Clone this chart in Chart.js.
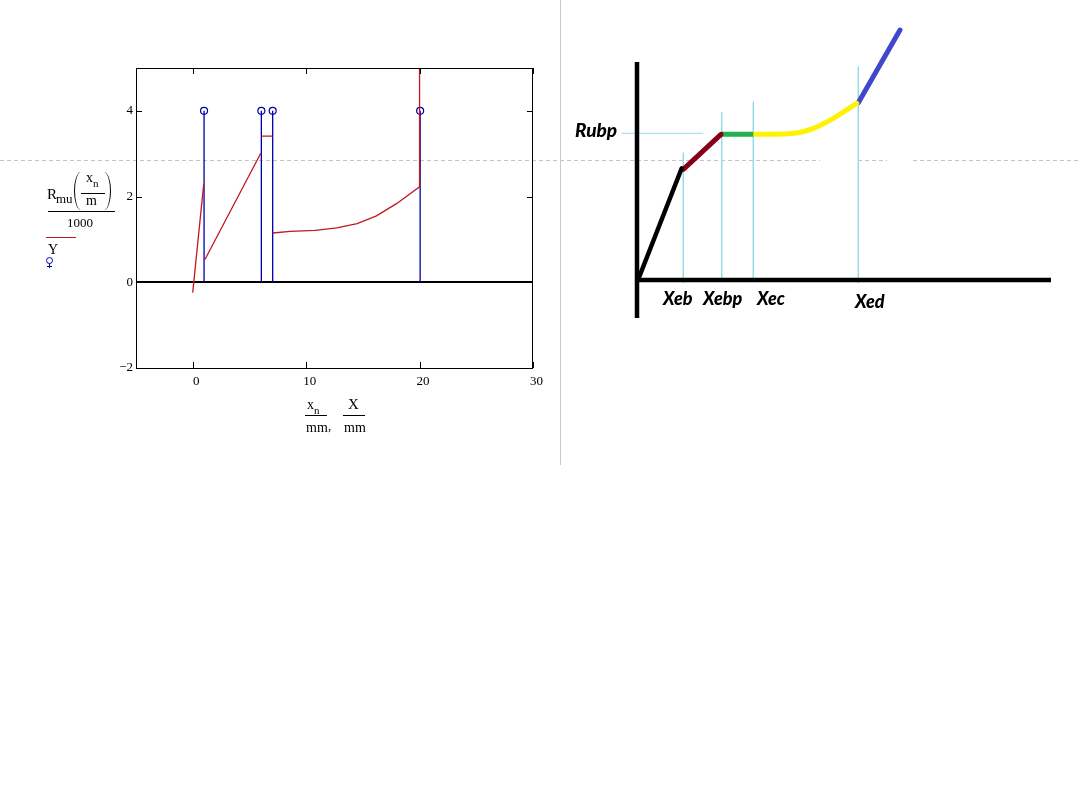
<!DOCTYPE html>
<html>
<head>
<meta charset="utf-8">
<script src="https://cdn.jsdelivr.net/npm/chart.js@4.4.1/dist/chart.umd.min.js"></script>
<style>
html, body { margin: 0; padding: 0; background: #fff; }
body { width: 1078px; height: 800px; position: relative; overflow: hidden; }
canvas { position: absolute; z-index: 1; }
#plot { left: 0; top: 0; }
#sketch { left: 560px; top: 0; }
.t { position: absolute; z-index: 2; font-family: 'Liberation Serif', serif; font-size: 13px; line-height: 13px; white-space: nowrap; color: #000; }
.bar { position: absolute; z-index: 2; height: 1px; background: #000; }
.lbl { position: absolute; z-index: 2; font-family: Lato, sans-serif; font-weight: 900; font-style: italic; font-size: 18px; line-height: 18px; white-space: nowrap; color: #000; }
.dash { position: absolute; z-index: 0; top: 160px; height: 1px; background: repeating-linear-gradient(to right, #c4c4c4 0 4px, transparent 4px 7px); }
.paren { position: absolute; z-index: 2; width: 6px; height: 38px; top: 172px; }
</style>
</head>
<body>
<!-- guide lines from the screenshot -->
<div class="dash" style="left:0;width:820px"></div>
<div class="dash" style="left:858px;width:29px"></div>
<div class="dash" style="left:913px;width:165px"></div>
<div style="position:absolute;z-index:0;left:560px;top:0;width:1px;height:465px;background:#c8c8c8"></div>

<canvas id="plot" width="560" height="470"></canvas>
<canvas id="sketch" width="518" height="340"></canvas>

<!-- legend: Rmu(xn/m)/1000 and Y -->
<span class="t" style="left:47px;top:187px;font-size:15px;line-height:15px">R</span>
<span class="t" style="left:56px;top:192px">mu</span>
<div class="paren" style="left:74px;border-left:1px solid #000;border-radius:100% 0 0 100% / 50% 0 0 50%"></div>
<span class="t" style="left:86px;top:171px;font-size:14px;line-height:14px">x</span>
<span class="t" style="left:93px;top:178px;font-size:11px;line-height:11px">n</span>
<div class="bar" style="left:81px;top:193px;width:24px"></div>
<span class="t" style="left:86px;top:194px;font-size:14px;line-height:14px">m</span>
<div class="paren" style="left:104px;border-right:1px solid #000;border-radius:0 100% 100% 0 / 0 50% 50% 0"></div>
<div class="bar" style="left:48px;top:211px;width:67px"></div>
<span class="t" style="left:67px;top:216px">1000</span>
<div class="bar" style="left:46px;top:237px;width:30px;background:#c0181e"></div>
<span class="t" style="left:48px;top:243px;font-size:14px;line-height:14px">Y</span>
<svg style="position:absolute;z-index:2;left:44px;top:256px" width="12" height="14">
  <circle cx="5.5" cy="4.5" r="3" fill="none" stroke="#0000a8" stroke-width="1"/>
  <line x1="5.5" y1="7.5" x2="5.5" y2="12" stroke="#0000a8" stroke-width="1"/>
  <line x1="3" y1="10.5" x2="8" y2="10.5" stroke="#0000a8" stroke-width="1"/>
</svg>

<!-- x axis title: xn/mm , X/mm -->
<span class="t" style="left:307px;top:398px;font-size:14px;line-height:14px">x</span>
<span class="t" style="left:314px;top:405px;font-size:11px;line-height:11px">n</span>
<div class="bar" style="left:305px;top:415px;width:22px"></div>
<span class="t" style="left:306px;top:421px;font-size:14px;line-height:14px">mm</span>
<span class="t" style="left:328px;top:419px">,</span>
<span class="t" style="left:348px;top:397px;font-size:15px;line-height:15px">X</span>
<div class="bar" style="left:343px;top:415px;width:22px"></div>
<span class="t" style="left:344px;top:421px;font-size:14px;line-height:14px">mm</span>

<!-- sketch labels -->
<span class="lbl" style="left:575px;top:120px;font-size:19px;line-height:19px">Rubp</span>
<span class="lbl" style="left:663px;top:289px">Xeb</span>
<span class="lbl" style="left:703px;top:289px">Xebp</span>
<span class="lbl" style="left:757px;top:289px">Xec</span>
<span class="lbl" style="left:855px;top:292px">Xed</span>

<script>
// ---- left plot (Mathcad export) ----
const xTicks = [0, 10, 20, 30];
const yTicks = [-2, 0, 2, 4];

// Rmu(xn/m)/1000 against xn/mm, null y = break in the curve
const rmuX = [0, 0.97, 1, 1.08, 6.0, 6, 6.05, 7.05, 7, 7.05, 8.6, 10.8, 12.7, 14.5, 16.2, 18.0, 19.95, 20.0, 20.0];
const rmuY = [-0.24, 2.29, null, 0.53, 3.01, null, 3.41, 3.41, null, 1.15, 1.19, 1.21, 1.27, 1.37, 1.55, 1.84, 2.22, 2.25, 6];

// Y against X/mm (drawn as stems)
const stemX = [1, 6.05, 7.05, 20.05];
const stemY = [4, 4, 4, 4];

// ---- right sketch, in sketch units ----
const axisVX = [0.1, 0.1], axisVY = [21.7, -3.9];
const axisHX = [0, 41.5], axisHY = [-0.1, -0.1];
const elasticX = [0.33, 4.57], elasticY = [0.23, 11.07];
const hardenX = [4.73, 8.5], hardenY = [10.97, 14.47];
const plateauX = [8.5, 11.73], plateauY = [14.47, 14.47];
const softX = [11.83, 15.73, 17.73, 19.73, 22.07];
const softY = [14.47, 14.57, 15.07, 16.07, 17.57];
const finalX = [22.23, 26.4], finalY = [17.63, 24.9];
const guideX = [4.73, 8.57, 11.73, 22.23];
const guideTop = [12.63, 16.67, 17.73, 21.23];
const guideBottom = [-0.4, 0.07, 0.07, -0.4];
const rubpX = [-1.43, 6.73], rubpY = 14.57;

const pts = (xs, ys) => xs.map((x, i) => ({x: x, y: ys[i]}));

let stemData = [];
stemX.forEach((x, i) => {
  stemData.push({x: x, y: 0}, {x: x, y: stemY[i]}, {x: x, y: null});
});

const mathcadFrame = {
  id: 'mathcadFrame',
  beforeDatasetsDraw(chart) {
    const {ctx, chartArea: a, scales} = chart;
    const y0 = Math.round(scales.y.getPixelForValue(0));
    ctx.save();
    ctx.strokeStyle = '#000';
    ctx.lineWidth = 2;
    ctx.beginPath();
    ctx.moveTo(a.left, y0);
    ctx.lineTo(a.right, y0);
    ctx.stroke();
    ctx.restore();
  },
  afterDatasetsDraw(chart) {
    const {ctx, chartArea: a, scales} = chart;
    ctx.save();
    ctx.strokeStyle = '#000';
    ctx.lineWidth = 1;
    ctx.strokeRect(a.left + 0.5, a.top + 0.5, a.right - a.left - 1, a.bottom - a.top);
    ctx.beginPath();
    xTicks.forEach(v => {
      const px = Math.round(scales.x.getPixelForValue(v)) + 0.5;
      ctx.moveTo(px, a.top); ctx.lineTo(px, a.top + 6);
      ctx.moveTo(px, a.bottom); ctx.lineTo(px, a.bottom - 6);
    });
    yTicks.forEach(v => {
      const py = Math.round(scales.y.getPixelForValue(v)) + 0.5;
      ctx.moveTo(a.left, py); ctx.lineTo(a.left + 6, py);
      ctx.moveTo(a.right, py); ctx.lineTo(a.right - 6, py);
    });
    ctx.stroke();
    ctx.restore();
  }
};

const tickFont = {family: "'Liberation Serif', serif", size: 13};

new Chart(document.getElementById('plot'), {
  type: 'scatter',
  data: {
    datasets: [
      {
        label: 'Rmu',
        data: pts(rmuX, rmuY),
        showLine: true,
        borderColor: '#c0181e',
        borderWidth: 1.3,
        pointRadius: 0,
        spanGaps: false
      },
      {
        label: 'Y',
        data: stemData,
        showLine: true,
        borderColor: '#0000a8',
        borderWidth: 1.3,
        backgroundColor: 'rgba(0,0,0,0)',
        pointBorderColor: '#0000a8',
        pointBorderWidth: 1.2,
        pointRadius: c => (c.raw && c.raw.y) ? 3.5 : 0,
        spanGaps: false
      }
    ]
  },
  options: {
    responsive: false,
    animation: false,
    devicePixelRatio: 1,
    layout: {padding: {left: 0, top: 68, right: 27, bottom: 0}, autoPadding: false},
    plugins: {legend: {display: false}, tooltip: {enabled: false}},
    scales: {
      x: {
        type: 'linear', min: -5, max: 30,
        grid: {display: false, drawTicks: false},
        border: {display: false},
        afterBuildTicks: s => { s.ticks = xTicks.map(v => ({value: v})); },
        afterFit: s => { s.height = 102; s.paddingLeft = 0; s.paddingRight = 0; },
        ticks: {font: tickFont, color: '#000', padding: 6, labelOffset: 3.5, maxRotation: 0}
      },
      y: {
        type: 'linear', min: -2, max: 5,
        grid: {display: false, drawTicks: false},
        border: {display: false},
        afterBuildTicks: s => { s.ticks = yTicks.map(v => ({value: v})); },
        afterFit: s => { s.width = 136; s.paddingTop = 0; s.paddingBottom = 0; },
        ticks: {font: tickFont, color: '#000', padding: 3,
          callback: v => v < 0 ? '\u2212' + Math.abs(v) : String(v)}
      }
    }
  },
  plugins: [mathcadFrame]
});

// ---- sketch chart ----
const seg = (xs, ys, color, w, extra) => Object.assign({
  data: pts(xs, ys),
  showLine: true,
  borderColor: color,
  borderWidth: w,
  pointRadius: 0,
  borderCapStyle: 'round'
}, extra || {});

let sketchSets = [
  seg(axisVX, axisVY, '#000', 4.5, {borderCapStyle: 'butt'}),
  seg(axisHX, axisHY, '#000', 4.5, {borderCapStyle: 'butt'}),
  seg(elasticX, elasticY, '#000', 4.5),
  seg(hardenX, hardenY, '#880015', 5),
  seg(plateauX, plateauY, '#22b14c', 5, {borderCapStyle: 'butt'}),
  seg(softX, softY, '#fff200', 5, {tension: 0.4}),
  seg(finalX, finalY, '#3f48cc', 5)
];
guideX.forEach((x, i) => {
  sketchSets.push(seg([x, x], [guideTop[i], guideBottom[i]], '#99d9ea', 1, {borderCapStyle: 'butt'}));
});
sketchSets.push(seg(rubpX, [rubpY, rubpY], '#99d9ea', 1, {borderCapStyle: 'butt'}));

new Chart(document.getElementById('sketch'), {
  type: 'scatter',
  data: {datasets: sketchSets},
  options: {
    responsive: false,
    animation: false,
    devicePixelRatio: 1,
    layout: {padding: 0, autoPadding: false},
    plugins: {legend: {display: false}, tooltip: {enabled: false}},
    scales: {
      x: {type: 'linear', min: -7.6, max: 44.2, display: false},
      y: {type: 'linear', min: -6.1, max: 27.9, display: false}
    }
  }
});
</script>
</body>
</html>
